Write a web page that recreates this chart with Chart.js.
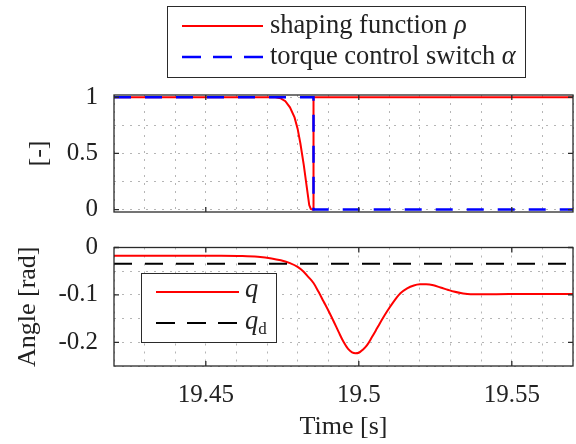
<!DOCTYPE html>
<html><head><meta charset="utf-8">
<script src="https://cdn.jsdelivr.net/npm/chart.js@4.4.1/dist/chart.umd.min.js"></script>
<style>
html,body{margin:0;padding:0;background:#fff;}
#wrap{position:relative;width:576px;height:444px;overflow:hidden;}
#c1{position:absolute;left:0;top:0;width:576px;height:230px;}
#c2{position:absolute;left:0;top:230px;width:576px;height:214px;}
#fl{position:absolute;left:-1000px;top:0;font-family:"Liberation Serif";}
</style></head><body>
<div id="wrap"><canvas id="c1" width="576" height="230"></canvas><canvas id="c2" width="576" height="214"></canvas></div>
<div id="fl">x <i>x</i></div>
<script>
// ---------- data ----------
const xTickValues = [19.45, 19.5, 19.55];
const xTickLabels = ['19.45', '19.5', '19.55'];
const topYTickValues = [0, 0.5, 1];
const topYTickLabels = ['0', '0.5', '1'];
const botYTickValues = [-0.2, -0.1, 0];
const botYTickLabels = ['-0.2', '-0.1', '0'];

const timeRho = [19.42, 19.4727, 19.4745, 19.4760, 19.4775, 19.4790, 19.4800, 19.4809, 19.4820, 19.4831, 19.4838, 19.4843, 19.4849, 19.4852, 19.4852, 19.57];
const rho     = [1, 1, 0.99, 0.965, 0.91, 0.82, 0.72, 0.59, 0.40, 0.18, 0.04, 0.005, 0, 0, 1, 1];

const timeAlpha = [19.42, 19.4852, 19.4852, 19.57];
const alpha     = [1, 1, 0, 0];

const timeQ = [19.42, 19.44, 19.455, 19.462, 19.467, 19.4715, 19.4745, 19.4775, 19.480, 19.4819, 19.4835, 19.4852, 19.4868, 19.4885, 19.4902, 19.4918, 19.4934, 19.4950, 19.4965, 19.4978, 19.4989, 19.5000, 19.5014, 19.5027, 19.5043, 19.5060, 19.5076, 19.5092, 19.5114, 19.5136, 19.5158, 19.5180, 19.5200, 19.5220, 19.5244, 19.5267, 19.5290, 19.5310, 19.5337, 19.5365, 19.545, 19.555, 19.57];
const q     = [-0.0175, -0.0172, -0.0172, -0.0178, -0.0195, -0.023, -0.027, -0.033, -0.041, -0.0507, -0.062, -0.075, -0.093, -0.114, -0.135, -0.156, -0.178, -0.199, -0.214, -0.221, -0.223, -0.222, -0.215, -0.206, -0.189, -0.170, -0.152, -0.135, -0.114, -0.0965, -0.086, -0.080, -0.0777, -0.0774, -0.0795, -0.0845, -0.089, -0.093, -0.0965, -0.0986, -0.0985, -0.098, -0.098];

const timeQd = [19.42, 19.57];
const qd     = [-0.0345, -0.0345];

const topLegendNames = [['shaping function ', 'ρ'], ['torque control switch ', 'α']];
const botLegendNames = [['q', ''], ['q', 'd']];
const xTitle = 'Time [s]';
const topYTitle = '[-]';
const botYTitle = 'Angle [rad]';

// ---------- helpers ----------
const FONT = '"Liberation Serif", serif';
const TXT = '#222';
const pts = (xs, ys) => xs.map((t, i) => ({x: t, y: ys[i]}));
const finder = (vals, labs) => v => { const i = vals.findIndex(t => Math.abs(t - v) < 1e-7); return i >= 0 ? labs[i] : ''; };

function gridCfg() {
  return { color: 'rgba(120,120,120,0.55)', lineWidth: 1, drawTicks: false, tickLength: 0 };
}
function zeroPad(s) { s.paddingTop = 0; s.paddingBottom = 0; s.paddingLeft = 0; s.paddingRight = 0; }

function drawFrame(chart, xMaj, yMaj) {
  const {ctx, chartArea: a, scales: {x, y}} = chart;
  ctx.save();
  ctx.strokeStyle = '#2a2a2a';
  ctx.lineWidth = 1.3;
  ctx.setLineDash([]);
  ctx.strokeRect(a.left, a.top, a.right - a.left, a.bottom - a.top);
  ctx.beginPath();
  xMaj.forEach(v => {
    const p = x.getPixelForValue(v);
    ctx.moveTo(p, a.bottom); ctx.lineTo(p, a.bottom - 5);
    ctx.moveTo(p, a.top); ctx.lineTo(p, a.top + 5);
  });
  yMaj.forEach(v => {
    const p = y.getPixelForValue(v);
    ctx.moveTo(a.left, p); ctx.lineTo(a.left + 5, p);
    ctx.moveTo(a.right, p); ctx.lineTo(a.right - 5, p);
  });
  ctx.stroke();
  ctx.restore();
}

function drawLegend(ctx, box, entries) {
  ctx.save();
  ctx.fillStyle = '#fff';
  ctx.fillRect(box.x, box.y, box.w, box.h);
  ctx.strokeStyle = '#2a2a2a';
  ctx.lineWidth = 1;
  ctx.strokeRect(box.x + 0.5, box.y + 0.5, box.w, box.h);
  entries.forEach(e => {
    ctx.beginPath();
    ctx.setLineDash(e.dash || []);
    ctx.strokeStyle = e.color;
    ctx.lineWidth = e.width;
    ctx.moveTo(e.x0, e.y); ctx.lineTo(e.x1, e.y);
    ctx.stroke();
    ctx.setLineDash([]);
    let tx = e.tx;
    ctx.fillStyle = TXT;
    ctx.textBaseline = 'alphabetic';
    ctx.textAlign = 'left';
    e.parts.forEach(p => {
      ctx.font = p.font;
      ctx.fillText(p.text, tx, e.ty + (p.dy || 0));
      tx += ctx.measureText(p.text).width;
    });
  });
  ctx.restore();
}

function build() {
  Chart.defaults.font.family = FONT;
  Chart.defaults.color = TXT;
  const tickFont = {family: FONT, size: 25};
  const titleFont = {family: FONT, size: 26};

  // ---------- top chart ----------
  new Chart(document.getElementById('c1'), {
    type: 'line',
    data: {
      datasets: [
        { label: 'rho', data: pts(timeRho, rho), borderColor: '#ff0000', borderWidth: 2, pointRadius: 0, tension: 0, order: 1 },
        { label: 'alpha', data: pts(timeAlpha, alpha), borderColor: '#0000ff', borderWidth: 2.5, borderDash: [17, 14], pointRadius: 0, tension: 0, order: 0 }
      ]
    },
    options: {
      responsive: false, animation: false,
      layout: { padding: { top: 95, right: 3, left: 0, bottom: 0 } },
      plugins: { legend: { display: false }, tooltip: { enabled: false } },
      scales: {
        x: {
          type: 'linear', min: 19.42, max: 19.57,
          ticks: { stepSize: 0.01, display: false, autoSkip: false, includeBounds: false },
          grid: gridCfg(), border: { display: false, dash: [2, 6] },
          afterFit: s => { s.height = 18; zeroPad(s); }
        },
        y: {
          min: -0.022, max: 1.02,
          ticks: { stepSize: 0.25, autoSkip: false, includeBounds: false, padding: 16, font: tickFont, color: TXT,
                   callback: finder(topYTickValues, topYTickLabels) },
          grid: gridCfg(), border: { display: false, dash: [2, 6] },
          title: { display: true, text: topYTitle, font: titleFont, color: TXT, padding: { top: 24, bottom: 0 } },
          afterFit: s => { s.width = 114; zeroPad(s); }
        }
      }
    },
    plugins: [{
      id: 'topDecor',
      afterDraw(chart) {
        drawFrame(chart, xTickValues, topYTickValues);
        drawLegend(chart.ctx, {x: 167, y: 6, w: 358, h: 71}, [
          { color: '#ff0000', width: 2, x0: 182, x1: 263, y: 26, tx: 270, ty: 33,
            parts: [{text: topLegendNames[0][0], font: '26.5px ' + FONT}, {text: topLegendNames[0][1], font: 'italic 26.5px ' + FONT}] },
          { color: '#0000ff', width: 2.5, dash: [19, 12], x0: 182, x1: 263, y: 57, tx: 270, ty: 64,
            parts: [{text: topLegendNames[1][0], font: '26.5px ' + FONT}, {text: topLegendNames[1][1], font: 'italic 26.5px ' + FONT}] }
        ]);
      }
    }]
  });

  // ---------- bottom chart ----------
  new Chart(document.getElementById('c2'), {
    type: 'line',
    data: {
      datasets: [
        { label: 'q', data: pts(timeQ, q), borderColor: '#ff0000', borderWidth: 2, pointRadius: 0, cubicInterpolationMode: 'monotone', order: 1 },
        { label: 'qd', data: pts(timeQd, qd), borderColor: '#000000', borderWidth: 2, borderDash: [18, 13], pointRadius: 0, tension: 0, order: 0 }
      ]
    },
    options: {
      responsive: false, animation: false,
      layout: { padding: { top: 17.5, right: 3, left: 0, bottom: 0 } },
      plugins: { legend: { display: false }, tooltip: { enabled: false } },
      scales: {
        x: {
          type: 'linear', min: 19.42, max: 19.57,
          ticks: { stepSize: 0.01, autoSkip: false, includeBounds: false, maxRotation: 0, padding: 14, font: tickFont, color: TXT,
                   callback: finder(xTickValues, xTickLabels) },
          grid: gridCfg(), border: { display: false, dash: [2, 6] },
          title: { display: true, text: xTitle, font: titleFont, color: TXT, padding: { top: 0, bottom: 1 } },
          afterFit: s => { s.height = 78; zeroPad(s); }
        },
        y: {
          min: -0.25, max: 0,
          ticks: { stepSize: 0.05, autoSkip: false, includeBounds: false, padding: 16, font: tickFont, color: TXT,
                   callback: finder(botYTickValues, botYTickLabels) },
          grid: gridCfg(), border: { display: false, dash: [2, 6] },
          title: { display: true, text: botYTitle, font: titleFont, color: TXT, padding: { top: 13, bottom: 0 } },
          afterFit: s => { s.width = 114; zeroPad(s); }
        }
      }
    },
    plugins: [{
      id: 'botDecor',
      afterDraw(chart) {
        drawFrame(chart, xTickValues, botYTickValues);
        drawLegend(chart.ctx, {x: 141, y: 43, w: 135, h: 69}, [
          { color: '#ff0000', width: 2, x0: 156, x1: 239, y: 62, tx: 245, ty: 67,
            parts: [{text: botLegendNames[0][0], font: 'italic 26.5px ' + FONT}] },
          { color: '#000000', width: 2, dash: [19, 12], x0: 156, x1: 239, y: 93, tx: 245, ty: 99,
            parts: [{text: botLegendNames[1][0], font: 'italic 26.5px ' + FONT}, {text: botLegendNames[1][1], font: '17px ' + FONT, dy: 5}] }
        ]);
      }
    }]
  });
}

let built = false;
function go() { if (!built) { built = true; build(); } }
if (document.fonts && document.fonts.load) {
  Promise.all([
    document.fonts.load('25px "Liberation Serif"'),
    document.fonts.load('italic 26px "Liberation Serif"')
  ]).then(go, go);
  setTimeout(go, 1500);
} else { go(); }
</script>
</body></html>
